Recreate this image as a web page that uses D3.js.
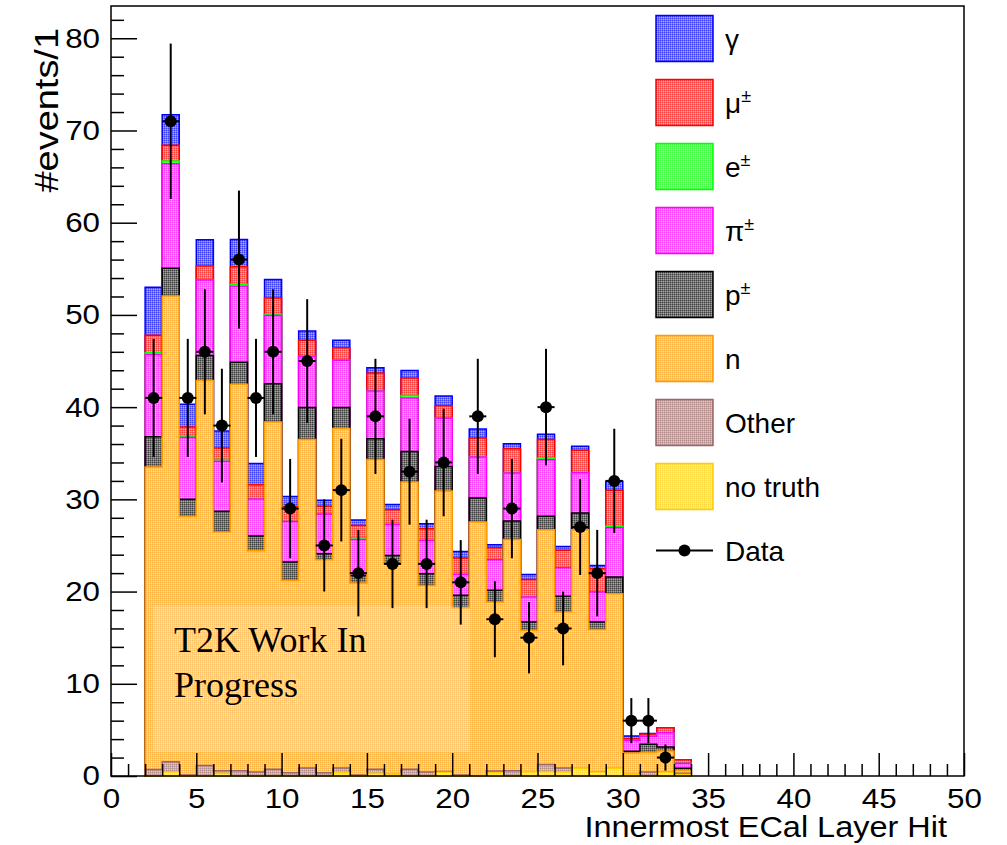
<!DOCTYPE html>
<html>
<head>
<meta charset="utf-8">
<script src="https://cdnjs.cloudflare.com/ajax/libs/d3/7.8.5/d3.min.js"></script>
<style>
body { margin: 0; background: #fff; }
svg { display: block; }
text { fill: #000; }
</style>
</head>
<body>
<svg id="chart" width="1007" height="845"></svg>
<script>
'use strict';

// lower edge of each bin (width 1)
var binLow = [2, 3, 4, 5, 6, 7, 8, 9, 10, 11, 12, 13, 14, 15, 16, 17,
              18, 19, 20, 21, 22, 23, 24, 25, 26, 27, 28, 29, 30, 31, 32, 33];

var dataCounts = [41, 71, 41, 46, 38, 56, 41, 46, 29, 45, 25, 31, 22, 39, 23, 33,
                  23, 34, 21, 39, 17, 29, 15, 40, 16, 27, 22, 32, 6, 6, 2, 0];

// MC components, stacked bottom -> top
var noTruth  = [0, 0.45, 0, 0, 0.3, 0, 0, 0, 0, 0, 0, 0.36, 0, 0.3, 0.15, 0,
                0, 0.4, 0, 0, 0.35, 0, 0.45, 0.5, 0.43, 0.8, 0.43, 0.8, 0.15, 0, 0.4, 0.15];
var other    = [0.7, 1.1, 0.1, 1.15, 0.27, 0.57, 0.43, 0.72, 0.36, 0.87, 0.36, 0.51, 0.1, 0.42, 0, 0.72,
                0.43, 0.1, 0.1, 0, 0.2, 0.57, 0, 0.75, 0.44, 0, 0, 0, 0, 0.43, 0, 0.15];
var neutron  = [32.8, 50.5, 28.05, 41.75, 25.9, 41.9, 24.0, 37.67, 20.84, 35.63, 23.1, 36.8, 20.82, 33.61, 22.85, 31.15,
                20.24, 30.4, 18.12, 27.54, 18.31, 25.09, 15.34, 25.46, 16.91, 25.91, 15.47, 18.97, 2.34, 2.12, 2.3, 0.3];
var proton   = [3.3, 3.0, 1.85, 2.7, 2.25, 2.4, 1.6, 4.15, 2.0, 3.45, 0.65, 2.28, 0.83, 2.24, 0.92, 3.33,
                1.26, 2.67, 1.37, 2.6, 1.27, 2.0, 0.9, 1.45, 1.7, 1.81, 0.8, 1.81, 0.2, 0.9, 0.44, 0.25];
var pion     = [8.9, 11.35, 6.7, 8.2, 5.4, 8.25, 4.0, 7.4, 4.4, 5.55, 4.27, 5.13, 3.9, 5.17, 3.36, 5.78,
                3.62, 5.23, 2.25, 4.45, 3.33, 5.2, 2.71, 6.14, 3.11, 4.37, 3.25, 5.35, 1.15, 0.85, 1.55, 0.54];
var electron = [0.2, 0.3, 0.15, 0, 0.2, 0.2, 0, 0.1, 0, 0, 0, 0, 0.18, 0, 0, 0.29,
                0, 0, 0, 0, 0, 0, 0, 0.18, 0, 0, 0, 0.14, 0, 0, 0, 0];
var muon     = [1.9, 1.7, 1.0, 1.5, 1.25, 1.9, 1.55, 1.8, 1.6, 1.75, 0.87, 1.37, 1.33, 1.96, 1.6, 1.88,
                1.26, 1.35, 1.8, 2.05, 1.3, 2.64, 1.91, 2.0, 1.88, 2.43, 2.53, 3.91, 0.2, 0.25, 0.55, 0.36];
var gamma    = [5.2, 3.3, 2.45, 2.85, 1.85, 2.95, 2.3, 2.0, 1.1, 1.0, 0.65, 0.8, 0.6, 0.57, 0.55, 0.83,
                0.54, 1.05, 0.7, 1.0, 0.32, 0.54, 0.55, 0.58, 0.43, 0.43, 0.36, 0.97, 0.3, 0.05, 0, 0];

var stackKeys = ['noTruth', 'other', 'neutron', 'proton', 'pion', 'electron', 'muon', 'gamma'];
var legendKeys = ['gamma', 'muon', 'electron', 'pion', 'proton', 'neutron', 'other', 'noTruth'];
var legendNames = ['\u03b3', '\u03bc', 'e', '\u03c0', 'p', 'n', 'Other', 'no truth'];
var legendSups = ['', '\u00b1', '\u00b1', '\u00b1', '\u00b1', '', '', ''];
var xTicks = [0, 5, 10, 15, 20, 25, 30, 35, 40, 45, 50];
var yTicks = [0, 10, 20, 30, 40, 50, 60, 70, 80];

var colors = {
    gamma: '#0000ff', muon: '#ff0000', electron: '#00ff00', pion: '#ff00ff',
    proton: '#000000', neutron: '#ff9900', other: '#9a6666', noTruth: '#ffcc00'
};

var sans = '"Liberation Sans", Arial, Helvetica, sans-serif';
var svg = d3.select('#chart');
var x = d3.scaleLinear().domain([0, 50]).range([111, 964]);
var y = d3.scaleLinear().domain([0, 83.5]).range([776, 6]);

// dotted fill patterns, ROOT style (colour mixed with white)
var defs = svg.append('defs');
stackKeys.forEach(function(k) {
    var mix = d3.interpolateRgb(colors[k], '#ffffff');
    var p = defs.append('pattern')
        .attr('id', 'pat-' + k)
        .attr('patternUnits', 'userSpaceOnUse')
        .attr('width', 2).attr('height', 2);
    p.append('rect').attr('width', 2).attr('height', 2).attr('fill', mix(0.45));
    p.append('rect').attr('width', 1).attr('height', 1).attr('fill', mix(0.25));
    p.append('rect').attr('x', 1).attr('y', 1).attr('width', 1).attr('height', 1).attr('fill', mix(0.65));
});

var rows = binLow.map(function(b, i) {
    return {
        bin: b, noTruth: noTruth[i], other: other[i], neutron: neutron[i], proton: proton[i],
        pion: pion[i], electron: electron[i], muon: muon[i], gamma: gamma[i]
    };
});
var series = d3.stack().keys(stackKeys)(rows);

var area = d3.area()
    .curve(d3.curveStepAfter)
    .x(function(d) { return x(d.x); })
    .y0(y(0))
    .y1(function(d) { return y(d.top); });

// cumulative histograms, biggest first
series.slice().reverse().forEach(function(s) {
    var pts = s.map(function(d) { return {x: d.data.bin, top: d[1]}; });
    pts.push({x: binLow[binLow.length - 1] + 1, top: pts[pts.length - 1].top});
    svg.append('path')
        .attr('d', area(pts))
        .attr('fill', 'url(#pat-' + s.key + ')')
        .attr('stroke', colors[s.key])
        .attr('stroke-width', 1.5);
});

// label box
svg.append('rect')
    .attr('x', 153).attr('y', 606).attr('width', 317).attr('height', 146)
    .attr('fill', '#fff').attr('fill-opacity', 0.2);
var t2k = svg.append('text')
    .style('font-family', '"Liberation Serif", "Times New Roman", serif')
    .style('font-size', '36px');
t2k.append('tspan').attr('x', 174).attr('y', 652).text('T2K Work In');
t2k.append('tspan').attr('x', 174).attr('y', 697).text('Progress');

// data points
var pts = binLow.map(function(b, i) { return {bin: b, n: dataCounts[i]}; })
    .filter(function(d) { return d.n > 0; });
var dots = svg.append('g').attr('stroke', '#000').attr('stroke-width', 2);
pts.forEach(function(d) {
    var err = Math.sqrt(d.n);
    dots.append('line')
        .attr('x1', x(d.bin + 0.5)).attr('x2', x(d.bin + 0.5))
        .attr('y1', y(d.n - err)).attr('y2', y(d.n + err));
    dots.append('line')
        .attr('x1', x(d.bin)).attr('x2', x(d.bin + 1))
        .attr('y1', y(d.n)).attr('y2', y(d.n));
    dots.append('circle')
        .attr('cx', x(d.bin + 0.5)).attr('cy', y(d.n)).attr('r', 6)
        .attr('fill', '#000').attr('stroke', 'none');
});

// axes, ticks inward
var sx = 1.12;
var styleAxis = function(g) {
    g.select('.domain').remove();
    g.selectAll('text').style('font-family', sans).style('font-size', '28px');
    g.selectAll('line').attr('stroke-width', 1.5);
};

svg.append('g').attr('transform', 'translate(0,776)')
    .call(d3.axisBottom(x).tickValues(xTicks).tickSize(-23).tickSizeOuter(0).tickPadding(12))
    .call(styleAxis)
    .selectAll('text').attr('transform', 'scale(' + sx + ',1)');
svg.append('g').attr('transform', 'translate(0,776)')
    .call(d3.axisBottom(x).tickValues(d3.range(0, 51).filter(function(v) { return v % 5; }))
        .tickSize(-12).tickSizeOuter(0).tickFormat(''))
    .call(styleAxis);

svg.append('g').attr('transform', 'translate(111,0)')
    .call(d3.axisLeft(y).tickValues(yTicks).tickSize(-26).tickSizeOuter(0).tickPadding(11))
    .call(styleAxis)
    .selectAll('text').attr('x', -11 / sx).attr('transform', 'scale(' + sx + ',1)');
svg.append('g').attr('transform', 'translate(111,0)')
    .call(d3.axisLeft(y).tickValues(d3.range(0, 84, 2).filter(function(v) { return v % 10; }))
        .tickSize(-13).tickSizeOuter(0).tickFormat(''))
    .call(styleAxis);

svg.append('rect')
    .attr('x', 111).attr('y', 6).attr('width', 853).attr('height', 770)
    .attr('fill', 'none').attr('stroke', '#000').attr('stroke-width', 1.5);

// axis titles
svg.append('text')
    .attr('transform', 'translate(947,837) scale(' + sx + ',1)')
    .attr('text-anchor', 'end')
    .style('font-family', sans).style('font-size', '29px')
    .text('Innermost ECal Layer Hit');
svg.append('text')
    .attr('transform', 'translate(58,28) rotate(-90) scale(1.15,1)')
    .attr('text-anchor', 'end')
    .style('font-family', sans).style('font-size', '33px')
    .text('#events/1');

// legend
var legend = svg.append('g');
legendKeys.forEach(function(k, i) {
    var top = 15.5 + i * 64;
    legend.append('rect')
        .attr('x', 656).attr('y', top).attr('width', 57).attr('height', 46)
        .attr('fill', 'url(#pat-' + k + ')')
        .attr('stroke', colors[k]).attr('stroke-width', 1.5);
    var t = legend.append('text')
        .attr('x', 725).attr('y', top + 23)
        .attr('dy', '0.36em')
        .style('font-family', sans).style('font-size', '28px');
    t.append('tspan').text(legendNames[i]);
    if (legendSups[i]) {
        t.append('tspan').style('font-size', '18px').attr('dy', -11).text(legendSups[i]);
    }
});
var dataTop = 15.5 + legendKeys.length * 64 + 23;
legend.append('line')
    .attr('x1', 656).attr('x2', 713).attr('y1', dataTop).attr('y2', dataTop)
    .attr('stroke', '#000').attr('stroke-width', 2);
legend.append('circle').attr('cx', 684.5).attr('cy', dataTop).attr('r', 6).attr('fill', '#000');
legend.append('text')
    .attr('x', 725).attr('y', dataTop)
    .attr('dy', '0.36em')
    .style('font-family', sans).style('font-size', '28px')
    .text('Data');
</script>
</body>
</html>
